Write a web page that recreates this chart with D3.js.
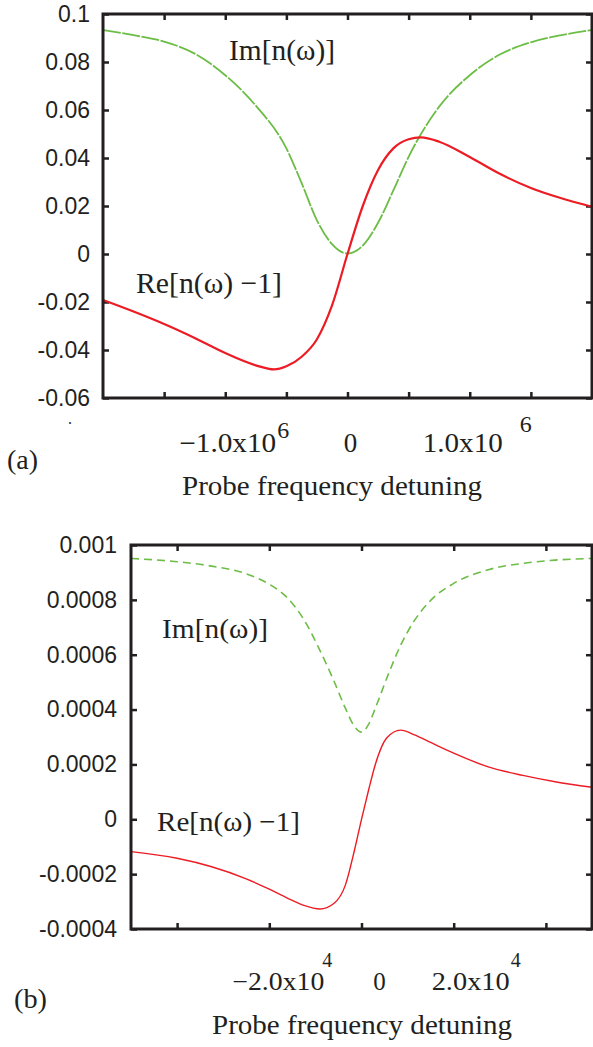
<!DOCTYPE html>
<html>
<head>
<meta charset="utf-8">
<script src="https://cdn.jsdelivr.net/npm/d3@7"></script>
<style>
body { margin: 0; background: #fff; }
svg { display: block; }
</style>
</head>
<body>
<svg width="593" height="1047"></svg>
<script>
// panel (a): detuning in units of 1e6
var detuneImA = [-2.0, -1.75, -1.5, -1.25, -1.0, -0.75, -0.5, -0.375, -0.25, -0.125, 0, 0.125, 0.25, 0.375, 0.5, 0.75, 1.0, 1.25, 1.5, 1.75, 2.0];
var imA = [0.0933, 0.0912, 0.0885, 0.0835, 0.0745, 0.0618, 0.0440, 0.0295, 0.0140, 0.0040, 0.0002, 0.0035, 0.0130, 0.0265, 0.0405, 0.0614, 0.0745, 0.0832, 0.0882, 0.0912, 0.0933];
var detuneReA = [-2.0, -1.75, -1.5, -1.25, -1.0, -0.75, -0.6, -0.5, -0.375, -0.25, -0.125, 0, 0.125, 0.25, 0.375, 0.5, 0.6, 0.75, 1.0, 1.25, 1.5, 1.75, 2.0];
var reA = [-0.0192, -0.0240, -0.0292, -0.0350, -0.0413, -0.0464, -0.0481, -0.0468, -0.0428, -0.0355, -0.0212, 0.0000, 0.0200, 0.0350, 0.0440, 0.0478, 0.0486, 0.0468, 0.0404, 0.0333, 0.0275, 0.0232, 0.0197];
var yTicksA = [-0.06, -0.04, -0.02, 0, 0.02, 0.04, 0.06, 0.08, 0.1];
var xTicksA = [-1.5, -1, -0.5, 0, 0.5, 1, 1.5];

// panel (b): detuning in units of 1e4, values in units of 1e-4
var detuneB = [-5, -4, -3.25, -2.5, -2, -1.6, -1.25, -0.9, -0.6, -0.35, -0.15, 0, 0.15, 0.3, 0.55, 0.85, 1.15, 1.5, 2, 2.75, 3.5, 4.2, 5];
var imB = [9.51, 9.39, 9.23, 8.95, 8.57, 8.06, 7.28, 6.15, 5.05, 4.05, 3.38, 3.18, 3.45, 4.05, 5.15, 6.35, 7.25, 7.98, 8.6, 9.1, 9.33, 9.45, 9.51];
var reB = [-1.18, -1.42, -1.73, -2.17, -2.55, -2.88, -3.14, -3.27, -3.07, -2.4, -1.11, 0.0, 1.04, 2.0, 2.97, 3.25, 3.08, 2.8, 2.41, 1.91, 1.6, 1.37, 1.17];
var yTicksB = [-4, -2, 0, 2, 4, 6, 8, 10];
var yLabelsB = ["-0.0004", "-0.0002", "0", "0.0002", "0.0004", "0.0006", "0.0008", "0.001"];
var xTicksB = [-4, -2, 0, 2, 4];

var svg = d3.select("svg");
var ink = "#231f20", red = "#ec1c24", green = "#6cbd45";
var serif = "'Liberation Serif', 'Times New Roman', serif";

function label(txt, x, y, size, len, anchor) {
  var t = svg.append("text")
    .attr("x", x).attr("y", y)
    .attr("font-family", serif)
    .attr("font-size", size)
    .attr("fill", ink)
    .attr("text-anchor", anchor || "start")
    .text(txt);
  if (len) t.attr("textLength", len).attr("lengthAdjust", "spacingAndGlyphs");
  return t;
}

function panel(o) {
  var x = d3.scaleLinear().domain(o.xDomain).range([o.left, o.right]);
  var y = d3.scaleLinear().domain(o.yDomain).range([o.bottom, o.top]);
  var g = svg.append("g");

  var axes = [
    [d3.axisBottom(x).tickValues(o.xTicks).tickFormat(""), "translate(0," + o.bottom + ")"],
    [d3.axisTop(x).tickValues(o.xTicks).tickFormat(""), "translate(0," + o.top + ")"],
    [d3.axisRight(y).tickValues(o.yTicks).tickFormat(""), "translate(" + o.right + ",0)"],
    [d3.axisLeft(y).tickValues(o.yTicks).tickFormat(o.yFormat).tickPadding(o.pad), "translate(" + o.left + ",0)"]
  ];
  axes.forEach(function(a) {
    var ax = g.append("g")
      .attr("transform", a[1])
      .attr("color", ink)
      .call(a[0].tickSize(-6));
    ax.select(".domain").remove();
    ax.selectAll("line").attr("stroke-width", 2.5);
    ax.selectAll("text")
      .attr("font-family", "'Liberation Sans', Arial, sans-serif")
      .attr("font-size", 23)
      .attr("fill", ink);
  });

  var line = d3.line()
    .x(function(d) { return x(d[0]); })
    .y(function(d) { return y(d[1]); })
    .curve(d3.curveMonotoneX);

  g.append("path")
    .datum(d3.zip(o.detuneIm, o.im))
    .attr("d", line)
    .attr("fill", "none")
    .attr("stroke", green)
    .attr("stroke-width", o.gw)
    .attr("stroke-dasharray", o.dash);

  g.append("path")
    .datum(d3.zip(o.detuneRe, o.re))
    .attr("d", line)
    .attr("fill", "none")
    .attr("stroke", red)
    .attr("stroke-width", o.rw);

  g.append("rect")
    .attr("x", o.left).attr("y", o.top)
    .attr("width", o.right - o.left).attr("height", o.bottom - o.top)
    .attr("fill", "none")
    .attr("stroke", ink)
    .attr("stroke-width", 3);

  return x;
}

// (a)
var xa = panel({
  left: 103, right: 592, top: 14, bottom: 398,
  xDomain: [-2, 2], yDomain: [-0.06, 0.1],
  xTicks: xTicksA, yTicks: yTicksA,
  yFormat: function(d) { return String(d); }, pad: 13,
  detuneIm: detuneImA, im: imA, detuneRe: detuneReA, re: reA,
  gw: 1.8, rw: 2.2, dash: "18 1.5"
});
label("\u22121.0x10", xa(-1) - 46, 452, 27, 97);
label("6", xa(-1) + 52, 438, 24);
label("0", xa(0) + 3, 452, 27, null, "middle");
label("1.0x10", xa(1) - 47, 452, 27, 80);
label("6", xa(1) + 50, 432, 24);
label("Im[n(\u03c9)]", 229, 60, 30, 106);
label("Re[n(\u03c9) \u22121]", 136, 293, 30, 146);
label("(a)", 7, 469, 27, 31);
label("Probe frequency detuning", 182, 495, 28, 300);
label(".", 68, 424, 16);

// (b)
var xb = panel({
  left: 131, right: 592, top: 545, bottom: 929,
  xDomain: [-5, 5], yDomain: [-4, 10],
  xTicks: xTicksB, yTicks: yTicksB,
  yFormat: function(d, i) { return yLabelsB[i]; }, pad: 14,
  detuneIm: detuneB, im: imB, detuneRe: detuneB, re: reB,
  gw: 1.6, rw: 1.4, dash: "8 5"
});
label("\u22122.0x10", xb(-2) - 37, 990, 25, 92);
label("4", xb(-2) + 53, 967, 20);
label("0", xb(0) + 18, 990, 25, null, "middle");
label("2.0x10", xb(2) - 22, 990, 25, 78);
label("4", xb(2) + 57, 967, 20);
label("Im[n(\u03c9)]", 162, 638, 28, 106);
label("Re[n(\u03c9) \u22121]", 157, 831, 28, 143);
label("(b)", 14, 1008, 27, 33);
label("Probe frequency detuning", 212, 1034, 28, 300);
</script>
</body>
</html>
